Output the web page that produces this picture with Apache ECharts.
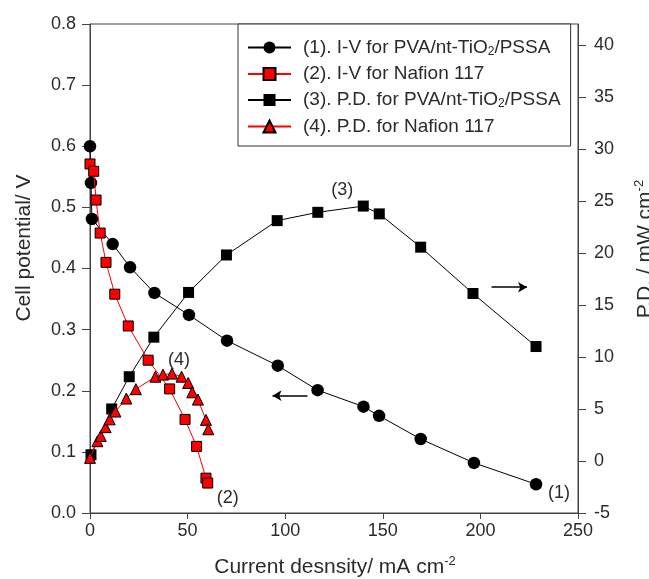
<!DOCTYPE html>
<html>
<head>
<meta charset="utf-8">
<title>I-V and power density curves</title>
<script src="https://cdn.jsdelivr.net/npm/echarts@6.0.0/dist/echarts.min.js"></script>
<style>
  html, body { margin: 0; padding: 0; background: #fff; }
  #chart { width: 649px; height: 579px; }
</style>
</head>
<body>
<div id="chart"></div>
<script>
// Current density (mA cm-2) and cell potential (V) / power density (mW cm-2)
const seriesNames = [
  '(1). I-V for PVA/nt-TiO2/PSSA',
  '(2). I-V for Nafion 117',
  '(3). P.D. for PVA/nt-TiO2/PSSA',
  '(4). P.D. for Nafion 117'
];

// (1) I-V, PVA/nt-TiO2/PSSA
const currentPva = [0, 0.5, 1, 11.6, 20.5, 33, 50.7, 70.2, 96.2, 116.6, 140.1, 148.1, 169.4, 196.7, 228.5];
const voltagePva = [0.600, 0.540, 0.481, 0.440, 0.402, 0.360, 0.324, 0.282, 0.241, 0.201, 0.174, 0.159, 0.121, 0.082, 0.047];

// (2) I-V, Nafion 117
const currentNafion = [0, 1.9, 3.1, 5.2, 8.2, 12.7, 19.6, 29.8, 40.8, 48.7, 54.6, 59.4, 60.3];
const voltageNafion = [0.571, 0.559, 0.512, 0.458, 0.410, 0.358, 0.306, 0.250, 0.203, 0.153, 0.109, 0.057, 0.049];

// (3) power density, PVA/nt-TiO2/PSSA
const currentPvaPd = [0.5, 11.1, 20.1, 32.7, 50.5, 69.9, 95.9, 116.7, 140, 148.2, 169.4, 196.2, 228.5];
const powerPva = [0.6, 5.0, 8.1, 11.9, 16.2, 19.8, 23.1, 23.9, 24.5, 23.75, 20.55, 16.1, 11.0];

// (4) power density, Nafion 117
const currentNafionPd = [0, 3.8, 5.5, 8.0, 10.1, 13.0, 18.6, 23.5, 33.5, 37.4, 42.0, 46.9, 50.3, 52.4, 55.3, 59.4, 60.6];
const powerNafion = [0.3, 1.9, 2.4, 3.25, 4.0, 4.75, 6.0, 6.9, 8.1, 8.3, 8.4, 8.1, 7.5, 6.6, 5.9, 3.95, 3.05];

// axis ticks
const xTicks = [0, 50, 100, 150, 200, 250];
const potentialTicks = [0, 0.1, 0.2, 0.3, 0.4, 0.5, 0.6, 0.7, 0.8];
const powerTicks = [-5, 0, 5, 10, 15, 20, 25, 30, 35, 40];

const FONT = '"Liberation Sans", Arial, Helvetica, sans-serif';
const TEXT = '#2b2b2b';
const AXIS = '#444';

function pairs(xs, ys) {
  return xs.map((x, i) => [x, ys[i]]);
}

// attach a curve tag such as "(1)" to one point of a series
function tagPoint(data, index, text, offset) {
  const d = data.slice();
  d[index] = {
    value: d[index],
    label: {
      show: true,
      formatter: text,
      position: 'inside',
      offset: offset,
      fontSize: 18,
      fontFamily: FONT,
      color: TEXT
    }
  };
  return d;
}

function peakIndex(arr) {
  let k = 0;
  arr.forEach((v, i) => { if (v > arr[k]) k = i; });
  return k;
}

const dataPva = tagPoint(pairs(currentPva, voltagePva), currentPva.length - 1, '(1)', [23, 9]);
const dataNafion = tagPoint(pairs(currentNafion, voltageNafion), currentNafion.length - 1, '(2)', [20, 15]);
const dataPvaPd = tagPoint(pairs(currentPvaPd, powerPva), peakIndex(powerPva), '(3)', [-21, -16]);
const dataNafionPd = tagPoint(pairs(currentNafionPd, powerNafion), peakIndex(powerNafion), '(4)', [7, -14]);

const chart = echarts.init(document.getElementById('chart'), null, { renderer: 'canvas' });

const legendRich = {
  f: { fontSize: 19, fontFamily: FONT, color: TEXT, padding: [0, 0, 0, 7] },
  n: { fontSize: 19, fontFamily: FONT, color: TEXT },
  s: { fontSize: 12, fontFamily: FONT, color: TEXT, padding: [8, 0, 0, 0] }
};

const option = {
  animation: false,
  backgroundColor: '#fff',
  grid: {
    left: 90, right: 71, top: 24, bottom: 66,
    show: true, borderColor: AXIS, borderWidth: 1, backgroundColor: 'transparent'
  },
  legend: {
    data: seriesNames,
    orient: 'vertical',
    left: 238, top: 24,
    padding: [14, 10, 10, 9],
    itemWidth: 43, itemHeight: 15, itemGap: 7,
    borderColor: '#333', borderWidth: 1, backgroundColor: '#fff',
    selectedMode: false,
    textStyle: { rich: legendRich },
    formatter: function (name) {
      const parts = name.split('TiO2');
      if (parts.length === 2) {
        return '{f|' + parts[0] + 'TiO}{s|2}{n|' + parts[1] + '}';
      }
      return '{f|' + name + '}';
    }
  },
  xAxis: {
    type: 'value', min: 0, max: 250, interval: 50,
    axisLine: { show: true, onZero: false, lineStyle: { color: AXIS, width: 1 } },
    axisTick: { show: true, length: 6, lineStyle: { color: AXIS }, customValues: xTicks },
    axisLabel: { fontSize: 18, fontFamily: FONT, color: TEXT, margin: 9, customValues: xTicks },
    splitLine: { show: false }
  },
  yAxis: [
    {
      type: 'value', position: 'left', min: 0, max: 0.8, interval: 0.1,
      axisLine: { show: true, onZero: false, lineStyle: { color: AXIS, width: 1 } },
      axisTick: { show: true, length: 8, lineStyle: { color: AXIS }, customValues: potentialTicks },
      axisLabel: {
        fontSize: 18, fontFamily: FONT, color: TEXT, margin: 14,
        customValues: potentialTicks,
        formatter: v => v.toFixed(1)
      },
      splitLine: { show: false }
    },
    {
      type: 'value', position: 'right', min: -5, max: 42, interval: 5,
      alignTicks: false,
      axisLine: { show: true, onZero: false, lineStyle: { color: AXIS, width: 1 } },
      axisTick: { show: true, length: 8, lineStyle: { color: AXIS }, customValues: powerTicks },
      axisLabel: { fontSize: 18, fontFamily: FONT, color: TEXT, margin: 16, customValues: powerTicks },
      splitLine: { show: false }
    }
  ],
  series: [
    {
      name: seriesNames[0], type: 'line', yAxisIndex: 0, z: 3,
      data: dataPva,
      symbol: 'circle', symbolSize: 12.5,
      lineStyle: { color: '#000', width: 1 },
      itemStyle: { color: '#000', borderColor: '#000', borderWidth: 0 },
      emphasis: { disabled: true },
      markLine: {
        silent: true,
        symbol: ['none', 'arrow'], symbolSize: [8, 9],
        lineStyle: { color: '#000', width: 1.6, type: 'solid' },
        label: { show: false },
        data: [[{ coord: [111.4, 0.192] }, { coord: [93.5, 0.192] }]]
      }
    },
    {
      name: seriesNames[1], type: 'line', yAxisIndex: 0, z: 4,
      data: dataNafion,
      symbol: 'rect', symbolSize: 10,
      lineStyle: { color: '#ff0000', width: 1 },
      itemStyle: { color: '#ff0000', borderColor: '#000', borderWidth: 1 },
      emphasis: { disabled: true }
    },
    {
      name: seriesNames[2], type: 'line', yAxisIndex: 1, z: 2,
      data: dataPvaPd,
      symbol: 'rect', symbolSize: 11,
      lineStyle: { color: '#000', width: 1 },
      itemStyle: { color: '#000', borderColor: '#000', borderWidth: 0 },
      emphasis: { disabled: true },
      markLine: {
        silent: true,
        symbol: ['none', 'arrow'], symbolSize: [8, 9],
        lineStyle: { color: '#000', width: 1.6, type: 'solid' },
        label: { show: false },
        data: [[{ coord: [205.7, 16.7] }, { coord: [223.9, 16.7] }]]
      }
    },
    {
      name: seriesNames[3], type: 'line', yAxisIndex: 1, z: 5,
      data: dataNafionPd,
      symbol: 'triangle', symbolSize: 11,
      lineStyle: { color: '#ff0000', width: 1 },
      itemStyle: { color: '#ff0000', borderColor: '#000', borderWidth: 1 },
      emphasis: { disabled: true }
    }
  ],
  graphic: [
    {
      type: 'text', x: 335, y: 567, silent: true,
      style: {
        text: '{a|Current desnsity/ mA cm}{s|-2}',
        align: 'center', verticalAlign: 'middle',
        rich: {
          a: { fontSize: 21, fontFamily: FONT, fill: TEXT, color: TEXT },
          s: { fontSize: 13, fontFamily: FONT, fill: TEXT, color: TEXT, padding: [0, 0, 11, 0] }
        }
      }
    },
    {
      type: 'text', x: 24, y: 248, rotation: Math.PI / 2, silent: true,
      style: {
        text: 'Cell potential/ V',
        font: '21px ' + FONT, fill: TEXT,
        align: 'center', verticalAlign: 'middle'
      }
    },
    {
      type: 'text', x: 645, y: 249, rotation: Math.PI / 2, silent: true,
      style: {
        text: '{a|P.D. / mW cm}{s|-2}',
        align: 'center', verticalAlign: 'middle',
        rich: {
          a: { fontSize: 21, fontFamily: FONT, fill: TEXT, color: TEXT },
          s: { fontSize: 13, fontFamily: FONT, fill: TEXT, color: TEXT, padding: [0, 0, 11, 0] }
        }
      }
    }
  ]
};

chart.setOption(option);
</script>
</body>
</html>
